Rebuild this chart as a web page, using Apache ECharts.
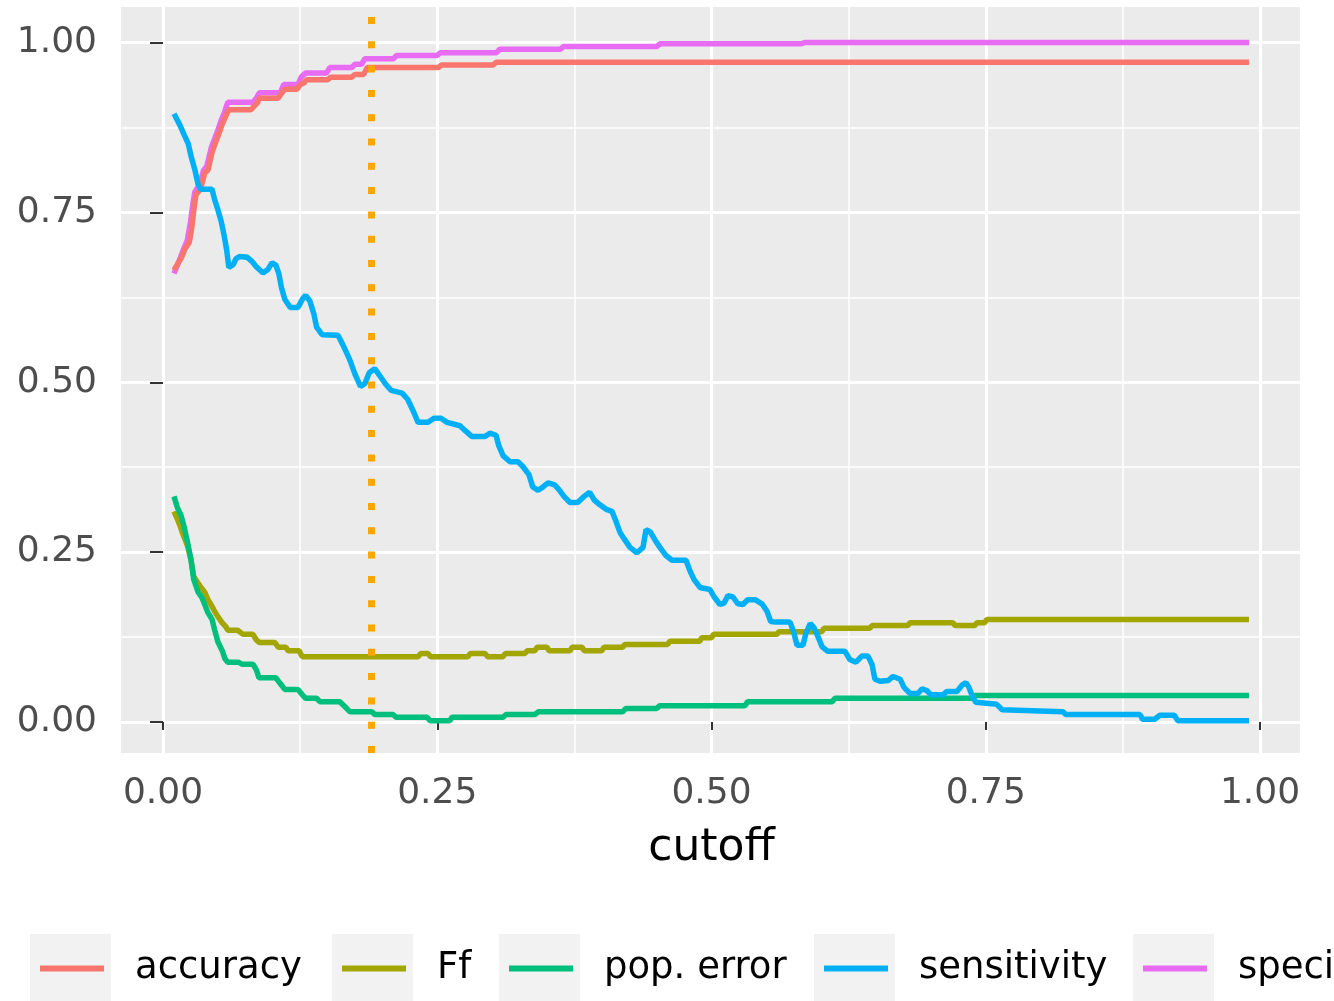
<!DOCTYPE html>
<html><head><meta charset="utf-8">
<script src="https://cdn.jsdelivr.net/npm/echarts@6/dist/echarts.min.js"></script>
<style>html,body{margin:0;padding:0;background:#fff}#c{width:1334px;height:1001px}</style>
</head><body><div id="c"></div>
<script>
// ---------- DATA ----------
const seriesNames = ['accuracy', 'Ff', 'pop. error', 'sensitivity', 'specificity'];
const xTicks = [0, 0.25, 0.5, 0.75, 1];
const yTicks = [0, 0.25, 0.5, 0.75, 1];
const xTitle = 'cutoff';
const optimalCutoff = 0.19;

const accuracy = [[0.010,0.665],[0.014,0.676],[0.017,0.684],[0.020,0.696],[0.024,0.706],[0.026,0.725],[0.028,0.752],[0.030,0.776],[0.034,0.784],[0.036,0.795],[0.038,0.808],[0.041,0.812],[0.043,0.826],[0.045,0.840],[0.048,0.853],[0.051,0.866],[0.054,0.880],[0.057,0.891],[0.060,0.901],[0.080,0.901],[0.083,0.906],[0.086,0.911],[0.088,0.918],[0.105,0.918],[0.108,0.925],[0.111,0.931],[0.122,0.931],[0.125,0.938],[0.128,0.940],[0.131,0.945],[0.150,0.945],[0.153,0.949],[0.172,0.949],[0.175,0.953],[0.183,0.953],[0.186,0.963],[0.251,0.963],[0.254,0.967],[0.301,0.967],[0.304,0.971],[0.990,0.971]];

const specificity = [[0.010,0.660],[0.013,0.672],[0.016,0.684],[0.019,0.697],[0.022,0.708],[0.025,0.735],[0.027,0.760],[0.029,0.780],[0.033,0.790],[0.035,0.800],[0.037,0.812],[0.040,0.818],[0.042,0.832],[0.044,0.845],[0.047,0.858],[0.050,0.871],[0.053,0.885],[0.056,0.897],[0.059,0.912],[0.082,0.912],[0.085,0.918],[0.088,0.926],[0.107,0.926],[0.110,0.938],[0.123,0.938],[0.126,0.949],[0.130,0.955],[0.149,0.955],[0.152,0.963],[0.172,0.963],[0.175,0.968],[0.181,0.968],[0.184,0.976],[0.210,0.976],[0.213,0.981],[0.250,0.981],[0.253,0.985],[0.304,0.985],[0.307,0.990],[0.362,0.990],[0.365,0.994],[0.450,0.994],[0.453,0.998],[0.582,0.998],[0.585,1.000],[0.990,1.000]];

const sensitivity = [[0.010,0.895],[0.0155,0.878],[0.019,0.865],[0.023,0.851],[0.0255,0.833],[0.029,0.813],[0.032,0.791],[0.0345,0.784],[0.0447,0.784],[0.047,0.769],[0.050,0.754],[0.053,0.737],[0.0556,0.717],[0.058,0.695],[0.060,0.669],[0.064,0.673],[0.0665,0.682],[0.070,0.685],[0.0766,0.684],[0.081,0.678],[0.085,0.670],[0.091,0.661],[0.0957,0.666],[0.0994,0.676],[0.103,0.672],[0.1057,0.659],[0.108,0.639],[0.111,0.622],[0.116,0.610],[0.123,0.610],[0.127,0.622],[0.130,0.628],[0.134,0.619],[0.1376,0.600],[0.140,0.581],[0.145,0.570],[0.1595,0.569],[0.164,0.555],[0.170,0.534],[0.175,0.512],[0.180,0.494],[0.184,0.498],[0.188,0.514],[0.193,0.520],[0.1987,0.507],[0.203,0.497],[0.208,0.488],[0.218,0.484],[0.223,0.475],[0.228,0.458],[0.2325,0.441],[0.2416,0.441],[0.247,0.447],[0.2534,0.447],[0.259,0.441],[0.2707,0.436],[0.276,0.428],[0.2817,0.420],[0.2935,0.420],[0.298,0.425],[0.3036,0.422],[0.306,0.407],[0.310,0.392],[0.3163,0.383],[0.3236,0.383],[0.328,0.376],[0.3336,0.364],[0.337,0.346],[0.342,0.341],[0.3464,0.346],[0.351,0.352],[0.357,0.349],[0.361,0.342],[0.3655,0.332],[0.371,0.323],[0.378,0.323],[0.3838,0.332],[0.389,0.338],[0.393,0.327],[0.398,0.320],[0.404,0.313],[0.4093,0.310],[0.413,0.295],[0.4166,0.279],[0.421,0.268],[0.4257,0.257],[0.432,0.249],[0.4376,0.257],[0.4403,0.283],[0.444,0.280],[0.4485,0.268],[0.453,0.257],[0.4585,0.245],[0.464,0.238],[0.4768,0.238],[0.480,0.224],[0.484,0.210],[0.4895,0.198],[0.4986,0.195],[0.502,0.185],[0.5077,0.173],[0.5114,0.175],[0.515,0.186],[0.5196,0.184],[0.524,0.174],[0.5287,0.173],[0.533,0.180],[0.5397,0.180],[0.546,0.174],[0.5506,0.163],[0.554,0.148],[0.5588,0.147],[0.5716,0.147],[0.575,0.132],[0.578,0.113],[0.5834,0.113],[0.586,0.130],[0.590,0.145],[0.5934,0.139],[0.597,0.126],[0.6007,0.111],[0.606,0.104],[0.6217,0.104],[0.626,0.092],[0.6317,0.088],[0.637,0.097],[0.6427,0.097],[0.6463,0.085],[0.649,0.063],[0.6536,0.060],[0.661,0.061],[0.6655,0.067],[0.672,0.063],[0.6755,0.051],[0.681,0.042],[0.6882,0.042],[0.692,0.049],[0.6965,0.046],[0.700,0.040],[0.711,0.040],[0.7147,0.045],[0.7238,0.045],[0.7283,0.054],[0.732,0.058],[0.7347,0.051],[0.7375,0.039],[0.741,0.029],[0.760,0.026],[0.765,0.018],[0.8204,0.015],[0.823,0.011],[0.8906,0.011],[0.893,0.004],[0.904,0.004],[0.9088,0.010],[0.922,0.010],[0.925,0.002],[0.990,0.002]];

const ff = [[0.010,0.310],[0.013,0.299],[0.0155,0.289],[0.018,0.277],[0.022,0.261],[0.0255,0.239],[0.028,0.214],[0.0346,0.198],[0.038,0.191],[0.041,0.180],[0.0447,0.170],[0.047,0.163],[0.050,0.155],[0.054,0.146],[0.0574,0.140],[0.059,0.135],[0.068,0.135],[0.073,0.129],[0.082,0.129],[0.085,0.121],[0.088,0.117],[0.102,0.117],[0.105,0.110],[0.112,0.110],[0.114,0.105],[0.124,0.105],[0.127,0.096],[0.2325,0.096],[0.235,0.101],[0.2416,0.101],[0.244,0.096],[0.278,0.096],[0.280,0.101],[0.2935,0.101],[0.296,0.096],[0.310,0.096],[0.312,0.101],[0.330,0.101],[0.332,0.105],[0.339,0.105],[0.341,0.110],[0.350,0.110],[0.352,0.105],[0.371,0.105],[0.373,0.110],[0.382,0.110],[0.384,0.105],[0.400,0.105],[0.402,0.110],[0.419,0.110],[0.421,0.114],[0.460,0.114],[0.462,0.119],[0.4895,0.119],[0.491,0.124],[0.500,0.124],[0.502,0.129],[0.5597,0.129],[0.5615,0.133],[0.6007,0.133],[0.6026,0.138],[0.6445,0.138],[0.6463,0.142],[0.679,0.142],[0.681,0.146],[0.720,0.146],[0.722,0.142],[0.740,0.142],[0.742,0.146],[0.749,0.146],[0.751,0.151],[0.990,0.151]];

const popError = [[0.010,0.332],[0.013,0.316],[0.0164,0.304],[0.019,0.289],[0.022,0.267],[0.0255,0.239],[0.028,0.210],[0.032,0.191],[0.0355,0.183],[0.038,0.173],[0.041,0.161],[0.0447,0.151],[0.047,0.136],[0.050,0.118],[0.054,0.105],[0.0565,0.093],[0.059,0.088],[0.069,0.088],[0.072,0.085],[0.082,0.085],[0.085,0.077],[0.0875,0.065],[0.103,0.065],[0.1067,0.057],[0.111,0.048],[0.123,0.048],[0.127,0.040],[0.130,0.035],[0.140,0.035],[0.143,0.030],[0.161,0.030],[0.165,0.024],[0.1705,0.015],[0.1905,0.015],[0.193,0.011],[0.2097,0.011],[0.2124,0.007],[0.2407,0.007],[0.2434,0.002],[0.2616,0.002],[0.2634,0.007],[0.310,0.007],[0.3127,0.011],[0.339,0.011],[0.342,0.015],[0.419,0.015],[0.422,0.020],[0.450,0.020],[0.453,0.024],[0.5305,0.024],[0.533,0.030],[0.610,0.030],[0.6126,0.035],[0.7375,0.035],[0.740,0.039],[0.990,0.039]];

// ---------- STYLE ----------
const colorOf = {'accuracy':'#F8766D','Ff':'#A3A500','pop. error':'#00BF7D','sensitivity':'#00B0F6','specificity':'#E76BF3'};
const dataOf = {'accuracy':accuracy,'Ff':ff,'pop. error':popError,'sensitivity':sensitivity,'specificity':specificity};
const drawOrder = ['specificity','accuracy','Ff','pop. error','sensitivity'];
const FONT = 'DejaVu Sans';
const panel = {left:121, right:1300, top:7, bottom:753};
const xRange = [-0.0383, 1.0365];
const yRange = [-0.0456, 1.0522];
const legendBoxX = [30, 332, 499, 814, 1133];

const chart = echarts.init(document.getElementById('c'), null, {renderer:'canvas'});
const W = 1334, H = 1001;

function px(v){ return 163 + 1097*v; }
function py(v){ return 722 - 679.5*v; }

const grids = [
  {left:panel.left, right:W-panel.right, top:panel.top, bottom:H-panel.bottom, show:true, backgroundColor:'#EBEBEB', borderWidth:0},
  {left:px(0), right:W-px(1), top:panel.top, bottom:H-panel.bottom, show:false},
  {left:panel.left, right:W-panel.right, top:py(1), bottom:H-py(0), show:false}
];

const xAxes = [
  {gridIndex:0, type:'value', min:xRange[0], max:xRange[1], show:false},
  {gridIndex:1, type:'value', min:xTicks[0], max:xTicks[xTicks.length-1], interval:xTicks[1]-xTicks[0], z:1,
   axisLine:{show:false},
   axisTick:{show:true, length:8, lineStyle:{color:'#333333', width:2}},
   axisLabel:{fontFamily:FONT, fontSize:36, color:'#4D4D4D', margin:23, formatter:v=>v.toFixed(2)},
   splitLine:{show:true, lineStyle:{color:'#FFFFFF', width:3}},
   minorTick:{show:false, splitNumber:2},
   minorSplitLine:{show:true, lineStyle:{color:'#FFFFFF', width:1.5}},
   name:xTitle, nameLocation:'middle', nameGap:74,
   nameTextStyle:{fontFamily:FONT, fontSize:44, color:'#000000'}},
  {gridIndex:2, type:'value', min:xRange[0], max:xRange[1], show:false}
];
const yAxes = [
  {gridIndex:0, type:'value', min:yRange[0], max:yRange[1], show:false},
  {gridIndex:1, type:'value', min:yRange[0], max:yRange[1], show:false},
  {gridIndex:2, type:'value', min:yTicks[0], max:yTicks[yTicks.length-1], interval:yTicks[1]-yTicks[0], z:1,
   axisLine:{show:false},
   axisTick:{show:true, length:13, lineStyle:{color:'#333333', width:2}},
   axisLabel:{fontFamily:FONT, fontSize:36, color:'#4D4D4D', margin:24, padding:[6,0,0,0], formatter:v=>v.toFixed(2)},
   splitLine:{show:true, lineStyle:{color:'#FFFFFF', width:3}},
   minorTick:{show:false, splitNumber:2},
   minorSplitLine:{show:true, lineStyle:{color:'#FFFFFF', width:1.5}}}
];

const series = drawOrder.map(name => ({
  name: name, type:'line', xAxisIndex:0, yAxisIndex:0,
  data: dataOf[name], symbol:'none', showSymbol:false, smooth:false,
  lineStyle:{color:colorOf[name], width:5.5}, itemStyle:{color:colorOf[name]},
  silent:true, animation:false
}));
series.push({
  name:'cutoffLine', type:'line', xAxisIndex:0, yAxisIndex:0, data:[], animation:false,
  markLine:{silent:true, symbol:'none', label:{show:false}, animation:false, z:5,
    lineStyle:{color:'#FFA500', width:7, type:[7,17.3], cap:'butt'},
    data:[{xAxis:optimalCutoff}]}
});

const legends = seriesNames.map((name,i) => ({
  data:[name], left:legendBoxX[i]+10, top:950, orient:'horizontal', padding:0,
  icon:'rect', itemWidth:64, itemHeight:6, itemGap:0, selectedMode:false,
  textStyle:{fontFamily:FONT, fontSize:37, color:'#000000', padding:[16,0,0,26]}
}));

const graphics = legendBoxX.map(x => ({
  type:'rect', left:x, top:934, z:0, silent:true,
  shape:{width:81, height:67}, style:{fill:'#F2F2F2'}
}));

chart.setOption({
  animation:false,
  backgroundColor:'#FFFFFF',
  grid:grids, xAxis:xAxes, yAxis:yAxes,
  series:series, legend:legends, graphic:graphics
});
</script></body></html>
